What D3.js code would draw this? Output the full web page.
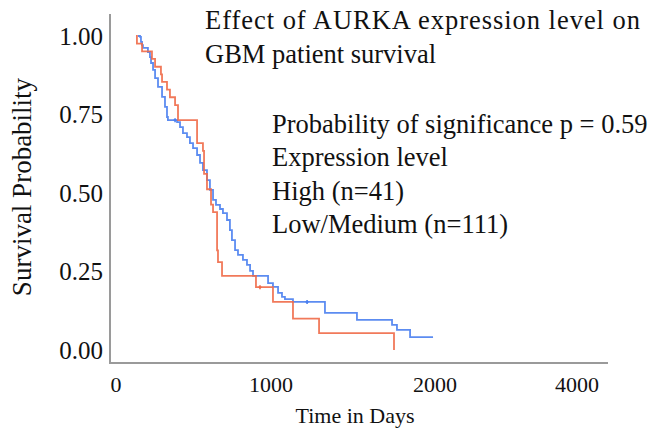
<!DOCTYPE html>
<html>
<head>
<meta charset="utf-8">
<script src="https://cdn.jsdelivr.net/npm/d3@7/dist/d3.min.js"></script>
<style>
  html, body { margin: 0; padding: 0; background: #fff; }
  svg { display: block; }
  text { font-family: "Liberation Serif", "Times New Roman", serif; fill: #111; }
</style>
</head>
<body>
<svg id="chart" width="653" height="428"></svg>
<script>
// Kaplan-Meier survival, AURKA expression in GBM
const xTickValues = [0, 1000, 2000, 4000];
const yTickValues = [0, 0.25, 0.5, 0.75, 1];

// High expression (n=41): event times (days) and survival after each step
const highDays = [129, 135, 168, 232, 252, 290, 297, 329, 348, 381, 400, 523, 561, 568, 587, 613, 626, 652, 658, 684, 903, 1012, 1134, 1293, 1750];
const highSurv = [1.0, 0.976, 0.951, 0.927, 0.902, 0.878, 0.854, 0.829, 0.805, 0.780, 0.732, 0.659, 0.634, 0.561, 0.512, 0.463, 0.439, 0.317, 0.280, 0.236, 0.200, 0.153, 0.100, 0.054, 0.0];
const highCensorDays = [929];
const highCensorSurv = [0.200];

// Low/Medium expression (n=111)
const lowDays = [142, 155, 161, 168, 174, 206, 219, 226, 239, 252, 271, 297, 316, 329, 335, 394, 413, 432, 458, 477, 497, 523, 542, 561, 587, 606, 626, 645, 671, 690, 716, 735, 748, 768, 787, 819, 845, 865, 884, 981, 1012, 1043, 1067, 1085, 1134, 1329, 1524, 1738, 1768, 1848];
const lowSurv = [1.0, 0.997, 0.981, 0.971, 0.962, 0.949, 0.933, 0.914, 0.892, 0.866, 0.838, 0.806, 0.774, 0.742, 0.732, 0.726, 0.710, 0.691, 0.678, 0.659, 0.643, 0.621, 0.596, 0.573, 0.541, 0.510, 0.478, 0.462, 0.449, 0.436, 0.414, 0.382, 0.350, 0.318, 0.303, 0.287, 0.271, 0.252, 0.236, 0.213, 0.201, 0.182, 0.169, 0.162, 0.153, 0.118, 0.096, 0.080, 0.064, 0.041];
const lowLastDay = 1988;
const lowCensorDays = [381, 1220];
const lowCensorSurv = [0.732, 0.153];

const titleLines = ["Effect of AURKA expression level on", "GBM patient survival"];
const legendLines = ["Probability of significance p = 0.59", "Expression level", "High (n=41)", "Low/Medium (n=111)"];

const svg = d3.select("#chart");

const x = d3.scaleLinear().domain(xTickValues).range([116, 271, 435, 577]);
const y = d3.scaleLinear().domain([0, 1]).range([350, 36]);

const axisColor = "#9a9a9a";

// axis lines
svg.append("line").attr("x1", 110).attr("x2", 110).attr("y1", 14).attr("y2", 363)
  .attr("stroke", axisColor).attr("stroke-width", 2);
svg.append("line").attr("x1", 109).attr("x2", 608).attr("y1", 363).attr("y2", 363)
  .attr("stroke", axisColor).attr("stroke-width", 2);

// y tick labels
svg.append("g").selectAll("text").data(yTickValues).join("text")
  .attr("x", 103).attr("y", d => y(d)).attr("dy", "0.34em")
  .attr("text-anchor", "end").attr("font-size", 25)
  .text(d => d3.format(".2f")(d));

// x tick labels
svg.append("g").selectAll("text").data(xTickValues).join("text")
  .attr("x", d => x(d)).attr("y", 392)
  .attr("text-anchor", "middle").attr("font-size", 22)
  .text(d => String(d));

// axis titles
svg.append("text").attr("x", 355).attr("y", 423).attr("text-anchor", "middle")
  .attr("font-size", 22).text("Time in Days");
svg.append("text").attr("transform", "translate(31,187) rotate(-90)")
  .attr("text-anchor", "middle").attr("font-size", 27).text("Survival Probability");

// survival step curves
function stepPoints(days, surv, lastDay) {
  const pts = days.map((d, i) => [d, surv[i]]);
  if (lastDay !== undefined) pts.push([lastDay, surv[surv.length - 1]]);
  return pts;
}
const line = d3.line().x(d => x(d[0])).y(d => y(d[1])).curve(d3.curveStepAfter);

const series = [
  { pts: stepPoints(lowDays, lowSurv, lowLastDay), color: "#4a7ff0", cd: lowCensorDays, cs: lowCensorSurv },
  { pts: stepPoints(highDays, highSurv), color: "#f06a48", cd: highCensorDays, cs: highCensorSurv }
];

series.forEach(s => {
  svg.append("path").datum(s.pts).attr("d", line)
    .attr("fill", "none").attr("stroke", s.color).attr("stroke-width", 1.8)
    .attr("stroke-opacity", 0.9);
  svg.append("g").selectAll("path").data(s.cd.map((d, i) => [d, s.cs[i]])).join("path")
    .attr("d", d => `M${x(d[0])},${y(d[1]) - 2}V${y(d[1]) + 2}M${x(d[0]) - 1.5},${y(d[1])}H${x(d[0]) + 1.5}`)
    .attr("stroke", s.color).attr("stroke-width", 1.6);
});

// title and annotation text
svg.append("g").selectAll("text").data(titleLines).join("text")
  .attr("x", 205).attr("y", (d, i) => 29 + i * 34).attr("font-size", 26.5)
  .each(function (d, i) { if (i === 0) d3.select(this).attr("textLength", 435).attr("lengthAdjust", "spacing"); })
  .text(d => d);
svg.append("g").selectAll("text").data(legendLines).join("text")
  .attr("x", 272).attr("y", (d, i) => 133 + i * 33.3).attr("font-size", 26.5).text(d => d);
</script>
</body>
</html>
